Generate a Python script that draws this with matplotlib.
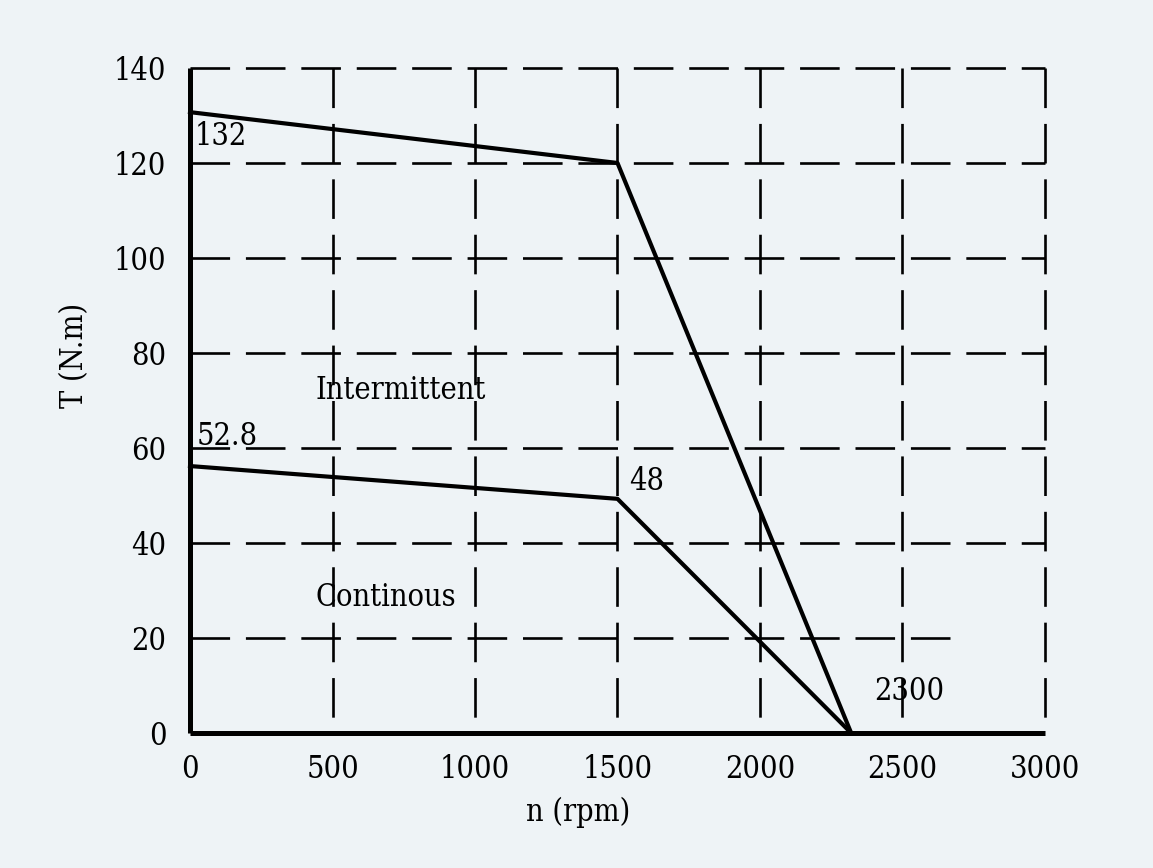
import matplotlib.pyplot as plt

# data
n_inter = [0, 1500, 2320]
t_inter = [130.7, 120, 0]
n_cont = [0, 1500, 2320]
t_cont = [56.2, 49.3, 0]

grid_y = [20, 40, 60, 80, 100, 120, 140]
grid_y_end = [2705, 3000, 3000, 3000, 3000, 3000, 3000]
grid_x = [500, 1000, 1500, 2000, 2500, 3000]

xticks = [0, 500, 1000, 1500, 2000, 2500, 3000]
yticks = [0, 20, 40, 60, 80, 100, 120, 140]

bg = '#eef3f6'
font = dict(family=['DejaVu Serif', 'DejaVu Sans'], stretch='condensed')

fig = plt.figure(figsize=(11.53, 8.68), dpi=100, facecolor=bg)
ax = fig.add_axes([0.1648, 0.1555, 0.7415, 0.7662])
ax.set_facecolor(bg)
ax.set_xlim(0, 3000)
ax.set_ylim(0, 140)

# dashed grid
for y, xe in zip(grid_y, grid_y_end):
    ax.plot([0, xe], [y, y], color='black', lw=1.9, dashes=(15, 6), clip_on=False)
for x in grid_x:
    ax.plot([x, x], [140, 0], color='black', lw=1.9, dashes=(15, 6), clip_on=False)

# axes lines
ax.plot([0, 0], [0, 140], color='black', lw=3.6, clip_on=False, solid_capstyle='butt')
ax.plot([0, 3000], [0, 0], color='black', lw=3.6, clip_on=False, solid_capstyle='butt')

# curves
ax.plot(n_inter, t_inter, color='black', lw=3, clip_on=False)
ax.plot(n_cont, t_cont, color='black', lw=3, clip_on=False)

for s in ax.spines.values():
    s.set_visible(False)
ax.set_xticks(xticks)
ax.set_yticks(yticks)
ax.tick_params(length=0)
ax.tick_params(axis='x', pad=15)
ax.tick_params(axis='y', pad=17)
ax.set_xticklabels([str(v) for v in xticks], fontsize=22, **font)
ax.set_yticklabels([str(v) for v in yticks], fontsize=22, **font)

ax.set_xlabel('n (rpm)', fontsize=22, va='center', ha='center', **font)
ax.set_ylabel('T (N.m)', fontsize=22, va='center', ha='center', **font)
ax.xaxis.set_label_coords(0.454, -0.12)
ax.yaxis.set_label_coords(-0.1345, 0.568)

ax.text(18, 125.5, '132', fontsize=22, va='center', **font)
ax.text(22, 62.5, '52.8', fontsize=22, va='center', **font)
ax.text(1540, 53, '48', fontsize=22, va='center', **font)
ax.text(2400, 8.7, '2300', fontsize=22, va='center', **font)
ax.text(440, 72, 'Intermittent', fontsize=22, va='center', **font)
ax.text(440, 28.5, 'Continous', fontsize=22, va='center', **font)

fig.savefig('out.png', dpi=100, facecolor=bg)
